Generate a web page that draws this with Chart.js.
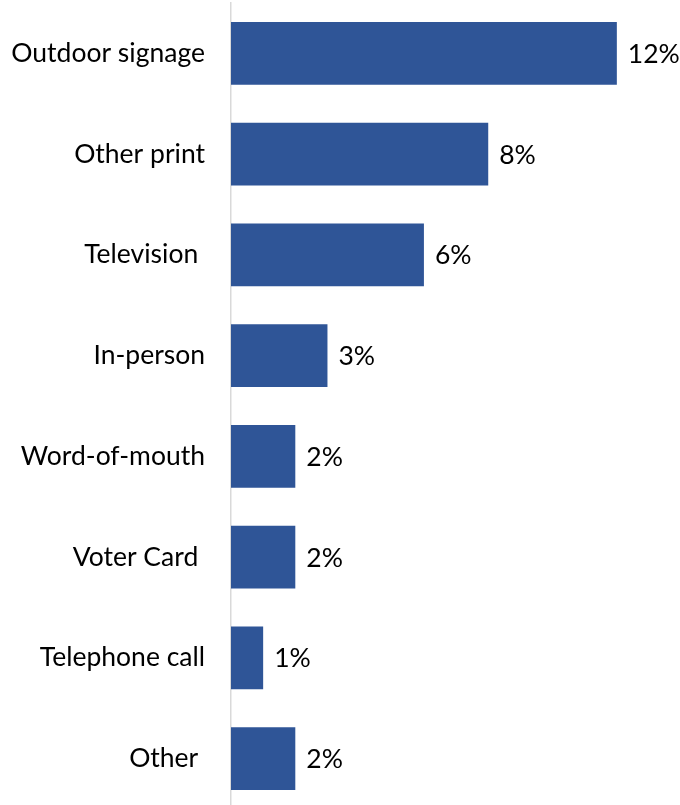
<!DOCTYPE html>
<html>
<head>
<meta charset="utf-8">
<script src="https://cdn.jsdelivr.net/npm/chart.js@4"></script>
<style>
  html, body { margin: 0; padding: 0; background: #fff; overflow: hidden; }
</style>
</head>
<body>
<canvas id="myChart" width="680" height="810"></canvas>
<script>
// where respondents heard about it, share of answers in %
const categories = ['Outdoor signage', 'Other print', 'Television ', 'In-person', 'Word-of-mouth', 'Voter Card ', 'Telephone call', 'Other '];
const shares = [12, 8, 6, 3, 2, 2, 1, 2];

const BAR_COLOR = '#2f5597';
const FONT = { family: 'Lato, sans-serif', size: 26.5 };

// write "n%" just past the end of each bar
const valueLabels = {
  id: 'valueLabels',
  afterDatasetsDraw(chart) {
    const ctx = chart.ctx;
    const meta = chart.getDatasetMeta(0);
    ctx.save();
    ctx.font = FONT.size + 'px ' + FONT.family;
    ctx.fillStyle = '#000';
    ctx.textAlign = 'left';
    ctx.textBaseline = 'middle';
    meta.data.forEach((bar, i) => {
      ctx.fillText(shares[i] + '%', bar.x + 11, bar.y + 1);
    });
    ctx.restore();
  }
};

var config = {
  type: 'bar',
  data: {
    labels: categories,
    datasets: [{ data: shares, backgroundColor: BAR_COLOR, borderWidth: 0, barPercentage: 0.625, categoryPercentage: 1 }]
  },
  options: {
    indexAxis: 'y',
    responsive: false,
    animation: false,
    layout: { padding: { top: 3, bottom: 1, left: 0, right: 31 } },
    scales: {
      x: { display: false, min: 0, max: 13 },
      y: {
        // fixed label column, and no extra room above/below the bars
        afterFit: (scale) => {
          scale.width = 231;
          scale.paddingTop = 0;
          scale.paddingBottom = 0;
        },
        grid: { display: false, drawTicks: false },
        border: { display: true, color: '#d9d9d9', width: 1.5 },
        ticks: { color: '#000', font: FONT, padding: 26 }
      }
    },
    plugins: { legend: { display: false }, tooltip: { enabled: false } }
  },
  plugins: [valueLabels]
};

var myChart = new Chart(document.getElementById('myChart'), config);
</script>
</body>
</html>
